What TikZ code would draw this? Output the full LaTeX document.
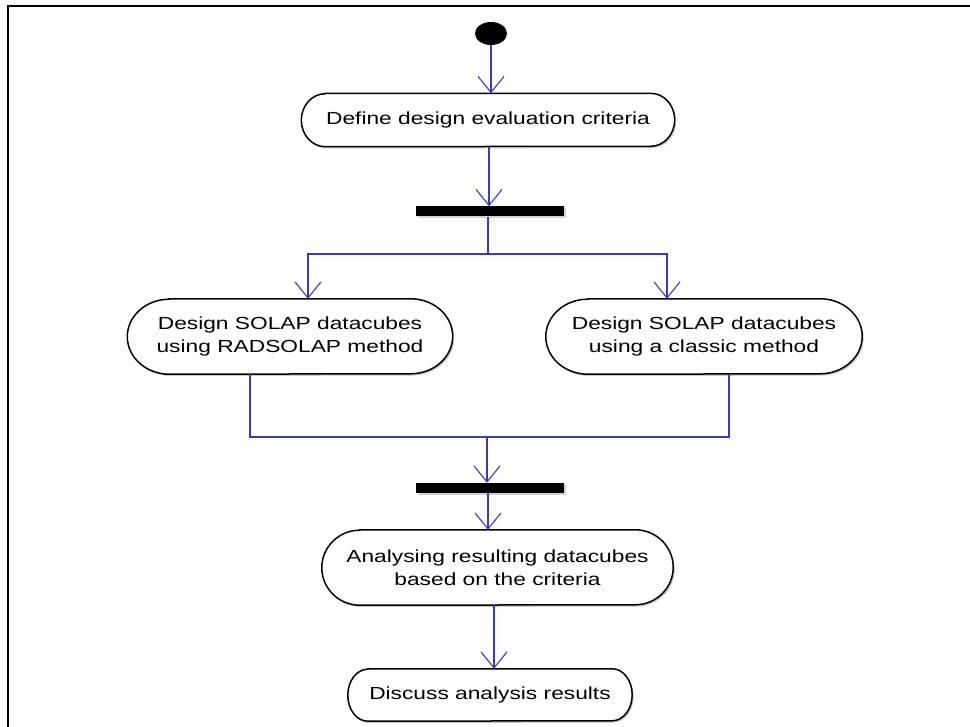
\documentclass[tikz,border=0pt]{standalone}
\usepackage{fontspec}
\newfontfamily\actfont[FakeStretch=1.3]{Liberation Sans}
\usetikzlibrary{arrows.meta,shapes.geometric,shadows}
\pgfdeclarelayer{bg}
\pgfsetlayers{bg,main}
\definecolor{flowblue}{RGB}{60,60,170}
\newcommand{\actshape}[3]{% node, rx, ry
  \draw[actoutline] ([xshift=#2pt]#1.north west) -- ([xshift=-#2pt]#1.north east)
    arc[start angle=90,end angle=-90,x radius=#2pt,y radius=#3pt]
    -- ([xshift=#2pt]#1.south west)
    arc[start angle=270,end angle=90,x radius=#2pt,y radius=#3pt] -- cycle;}
\begin{document}
\begin{tikzpicture}[x=1pt,y=-1pt,
  acttext/.style={inner sep=0pt,align=center,font=\actfont\fontsize{17.5}{23}\selectfont},
  actoutline/.style={draw=black,line width=1.5pt,fill=white,
    drop shadow={shadow xshift=1.5pt,shadow yshift=-1.8pt,opacity=0.35,fill=black!60}},
  barnode/.style={fill=black,inner sep=0pt,minimum width=148pt,minimum height=10pt,
    drop shadow={shadow xshift=1.5pt,shadow yshift=-1.8pt,opacity=0.35}},
  startnode/.style={ellipse,fill=black,inner sep=0pt,minimum width=32pt,minimum height=23pt},
  flowline/.style={draw=flowblue,line width=1.3pt},
  flow/.style={flowline,-{Straight Barb[length=16pt,width=26pt,line width=1.1pt]}}]
\useasboundingbox (0,0) rectangle (970,727);
% frame
\draw[line width=2.5pt] (970,6) -- (8,6) -- (8,727);
% nodes
\node[startnode] (start) at (491,33.5) {};
\node[acttext,minimum width=373pt,minimum height=53pt] (def) at (488,120) {Define design evaluation criteria};
\node[barnode] (fork1) at (490,211.5) {};
\node[acttext,minimum width=325pt,minimum height=75pt] (left) at (290,336.5) {Design SOLAP datacubes\\using RADSOLAP method};
\node[acttext,minimum width=316pt,minimum height=75pt] (right) at (704,336.5) {Design SOLAP datacubes\\using a classic method};
\node[barnode] (join1) at (490,488) {};
\node[acttext,minimum width=351pt,minimum height=75pt] (ana) at (497.5,567.5) {Analysing resulting datacubes\\based on the criteria};
\node[acttext,minimum width=284pt,minimum height=52pt] (disc) at (490,695) {Discuss analysis results};
\begin{pgfonlayer}{bg}
\fill[white] (0,0) rectangle (970,727);
\actshape{def}{24}{26.5}
\actshape{left}{42}{37.5}
\actshape{right}{42}{37.5}
\actshape{ana}{38}{37.5}
\actshape{disc}{20}{26}
\end{pgfonlayer}
% connectors
\draw[flow] (start) -- (start |- def.north);
\draw[flow] (def.south -| 489,0) -- (fork1.north -| 489,0);
\coordinate (split) at (488,254);
\draw[flowline] (fork1.south -| 488,0) -- (split);
\draw[flow] (split) -| ([xshift=18pt]left.north);
\draw[flow] (split) -| ([xshift=-37pt]right.north);
\coordinate (jn) at (487,437);
\draw[flowline] ([xshift=-40pt]left.south) |- (jn) -| ([xshift=25pt]right.south);
\draw[flow] (jn) -- (jn |- join1.north);
\draw[flow] (join1.south -| 488,0) -- (ana.north -| 488,0);
\draw[flow] (ana.south -| 494,0) -- (disc.north -| 494,0);
\end{tikzpicture}
\end{document}
